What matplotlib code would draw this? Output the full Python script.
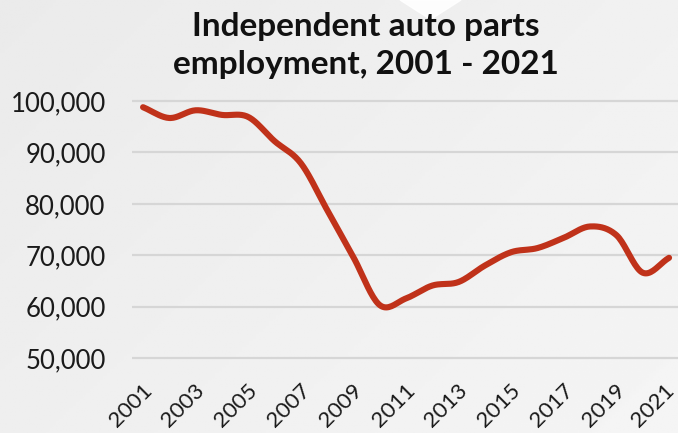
import numpy as np
import matplotlib
matplotlib.use("Agg")
import matplotlib.pyplot as plt
from matplotlib.ticker import FuncFormatter
from matplotlib.transforms import ScaledTranslation

plt.rcParams["font.family"] = ["Lato", "DejaVu Sans"]

# Data
years = np.arange(2001, 2022)
employment = [98800, 96700, 98200, 97300, 96900, 92200, 87900, 78800, 69600, 60300,
              61600, 64100, 64800, 68000, 70600, 71400, 73400, 75600, 73900, 66600, 69500]
tick_years = list(range(2001, 2022, 2))
title = "Independent auto parts\nemployment, 2001 - 2021"


def catmull_rom(x, y, n=20):
    # smooth the line through the points (Catmull-Rom cubic pieces)
    x = np.asarray(x, float)
    y = np.asarray(y, float)
    xp = np.concatenate([[2 * x[0] - x[1]], x, [2 * x[-1] - x[-2]]])
    yp = np.concatenate([[2 * y[0] - y[1]], y, [2 * y[-1] - y[-2]]])
    xs, ys = [], []
    t = np.linspace(0, 1, n, endpoint=False)
    for i in range(1, len(xp) - 2):
        p0, p1, p2, p3 = yp[i - 1], yp[i], yp[i + 1], yp[i + 2]
        m1 = (p2 - p0) / 2
        m2 = (p3 - p1) / 2
        h00 = 2 * t**3 - 3 * t**2 + 1
        h10 = t**3 - 2 * t**2 + t
        h01 = -2 * t**3 + 3 * t**2
        h11 = t**3 - t**2
        xs.append(xp[i] + t * (xp[i + 1] - xp[i]))
        ys.append(h00 * p1 + h10 * m1 + h01 * p2 + h11 * m2)
    xs.append([x[-1]])
    ys.append([y[-1]])
    return np.concatenate(xs), np.concatenate(ys)


fig = plt.figure(figsize=(6.78, 4.33), dpi=100)

# soft grey background
bg = fig.add_axes([0, 0, 1, 1], zorder=-10)
gx = np.linspace(0, 1, 200)
gy = np.linspace(0, 1, 200)
GX, GY = np.meshgrid(gx, gy)
grad = 0.92 + 0.04 * (0.6 * GX + 0.4 * GY)
bg.imshow(grad, cmap="gray", vmin=0, vmax=1, aspect="auto", extent=[0, 1, 0, 1])
bg.fill([0.59, 0.68, 0.635], [1.0, 1.0, 0.955], color="white", alpha=0.9)
bg.set_xlim(0, 1)
bg.set_ylim(0, 1)
bg.axis("off")

ax = fig.add_axes([0.1947, 0.1494, 0.8053, 0.641])
ax.patch.set_alpha(0)

sx, sy = catmull_rom(years, employment)
ax.plot(sx, sy, color="#c0321a", linewidth=4.4, solid_capstyle="round")

ax.set_xlim(2000.58, 2021.34)
ax.set_ylim(48000, 102000)
ax.set_yticks(range(50000, 100001, 10000))
ax.yaxis.set_major_formatter(FuncFormatter(lambda v, p: f"{int(v):,}"))
ax.set_xticks(tick_years)
ax.grid(axis="y", color="#d6d6d6", linewidth=1.6)
ax.set_axisbelow(True)
for s in ax.spines.values():
    s.set_visible(False)
ax.tick_params(axis="y", length=0, labelsize=18.5, labelcolor="#1a1a1a", pad=19)
ax.tick_params(axis="x", length=0, labelsize=16, labelcolor="#1a1a1a", pad=4)

# rotated year labels, nudged so their upper ends sit just right of each tick
ax.set_xticklabels([str(y) for y in tick_years], rotation=45, ha="right",
                   va="center", rotation_mode="anchor")
labels = ax.get_xticklabels()
for i, lab in enumerate(labels):
    dx = 2 if i == len(labels) - 1 else 6  # keep the last one inside the frame
    shift = ScaledTranslation(dx / 100, -13 / 100, fig.dpi_scale_trans)
    lab.set_transform(lab.get_transform() + shift)

fig.text(0.54, 0.895, title, ha="center", va="center", fontsize=24,
         fontweight="bold", color="#111111", linespacing=1.4)

fig.savefig("out.png", dpi=100)
